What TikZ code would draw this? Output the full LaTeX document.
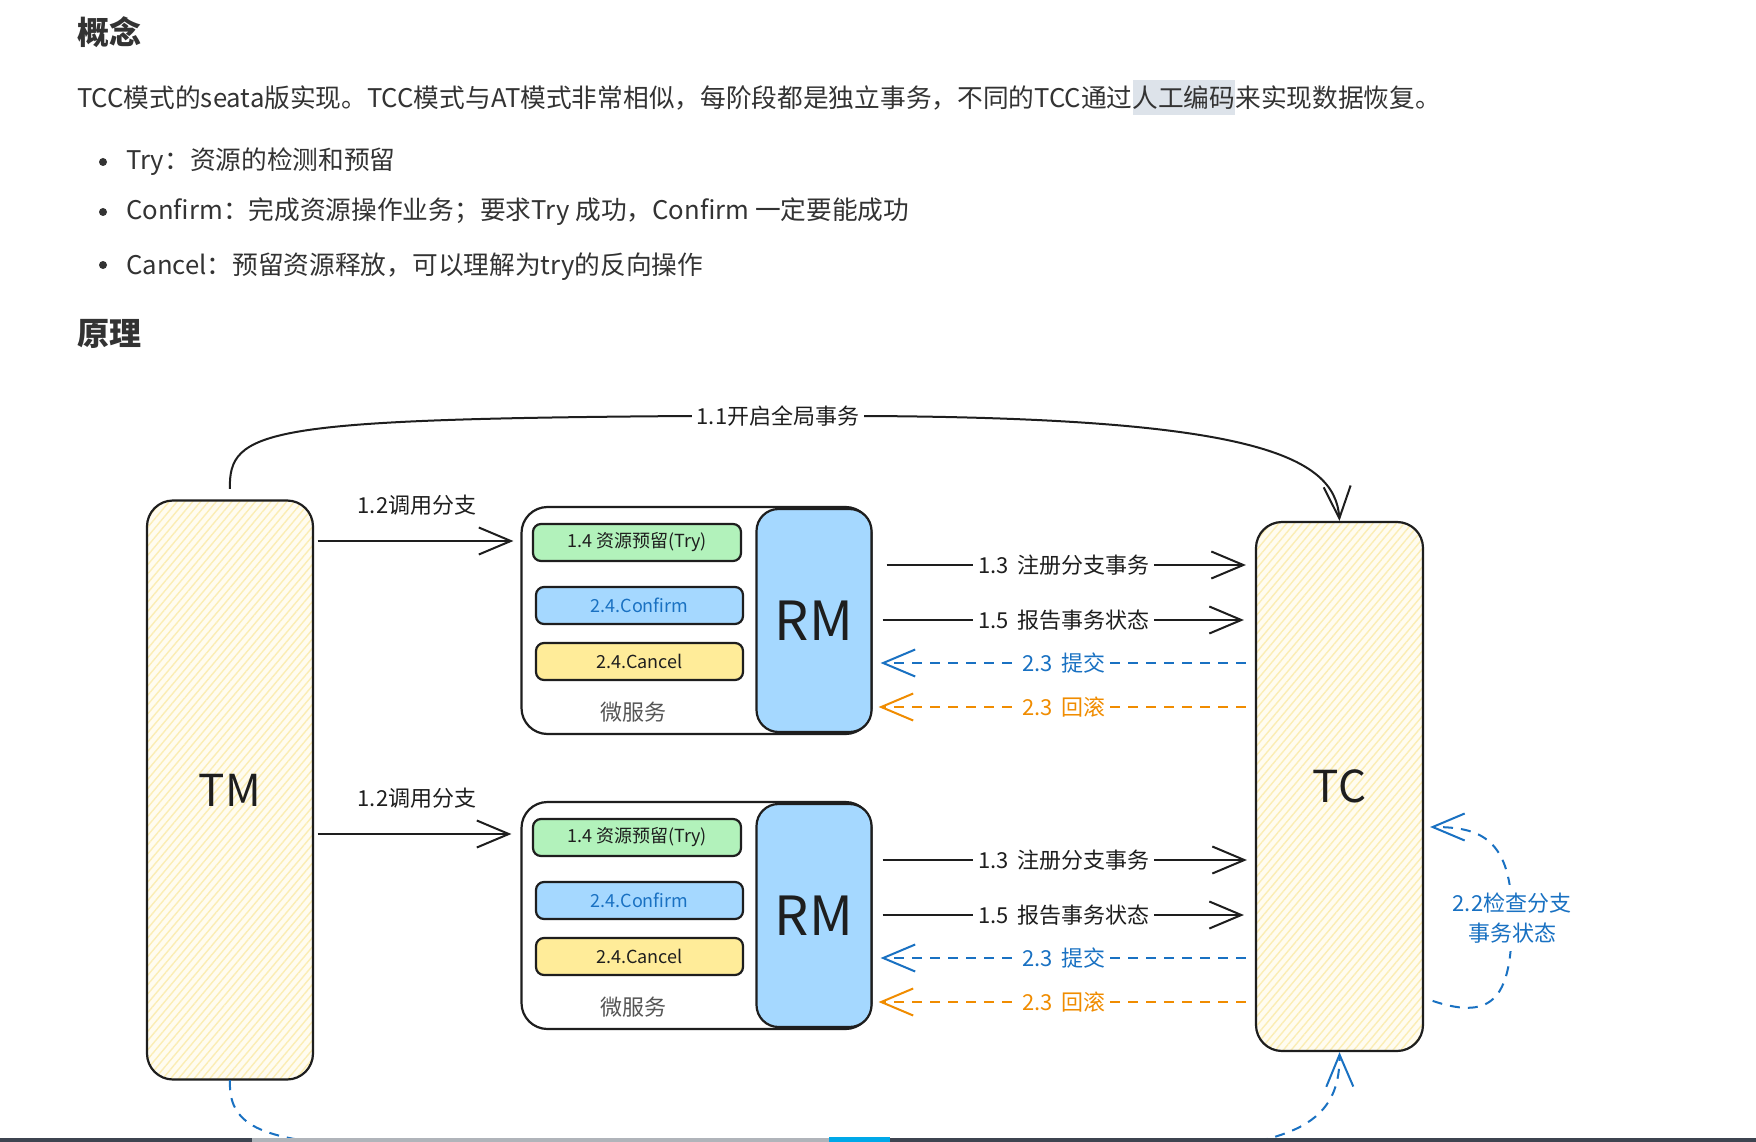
\documentclass[tikz,border=0pt]{standalone}
\usepackage{fontspec}
\setmainfont{Noto Sans CJK SC}
\usepackage{tikz}
\usetikzlibrary{arrows.meta, positioning, calc, patterns.meta}
\usepackage{xcolor}
\definecolor{tinta}{HTML}{1E1E1E}
\definecolor{texto}{HTML}{333333}
\definecolor{cinza}{HTML}{555555}
\definecolor{selec}{HTML}{DDE3EA}
\definecolor{verdeC}{HTML}{B2F2BB}
\definecolor{azulC}{HTML}{A5D8FF}
\definecolor{amareloC}{HTML}{FFEC99}
\definecolor{azulT}{HTML}{1971C2}
\definecolor{laranjaT}{HTML}{F08C00}
\definecolor{pilarBase}{HTML}{FFFCF0}
\definecolor{pilarRisco}{HTML}{FBEDB4}
\definecolor{barra}{HTML}{3D4450}
\definecolor{barraClara}{HTML}{B0B4BA}
\definecolor{barraCiano}{HTML}{00A8E8}
\newcommand{\fsize}[1]{\fontsize{#1}{#1}\selectfont}
\newcommand{\selecao}[1]{{\setlength{\fboxsep}{0pt}\colorbox{selec}{\rule[-7pt]{0pt}{35pt}#1}}}
\tikzset{
  caixa/.style={
    draw=tinta, line width=2.2pt, rounded corners=8pt,
    inner sep=0pt, font=\fsize{18}, text=tinta
  },
  caixaTry/.style={caixa, fill=verdeC, minimum width=208pt, minimum height=37pt},
  caixaConf/.style={caixa, fill=azulC, text=azulT, minimum width=207pt, minimum height=37pt},
  caixaCanc/.style={caixa, fill=amareloC, minimum width=207pt, minimum height=37pt},
  caixaRM/.style={caixa, fill=azulC, rounded corners=22pt, font=\fsize{54},
    minimum width=115pt, minimum height=223pt},
  modulo/.style={draw=tinta, line width=2.2pt, rounded corners=26pt, fill=white,
    minimum width=350pt, minimum height=227pt},
  pilar/.style={
    draw=tinta, line width=2.2pt, rounded corners=26pt,
    preaction={fill=pilarBase},
    pattern={Lines[angle=50, distance=6pt, line width=1.4pt]}, pattern color=pilarRisco,
    font=\fsize{44}, text=tinta
  },
  seta/.style={-{Straight Barb[length=32pt, width=27pt]}, line width=2pt, draw=tinta},
}

\begin{document}
\begin{tikzpicture}[
    x=1pt, y=-1pt,
    titulo/.style={anchor=base west, inner sep=0pt, font=\fsize{32}\bfseries, text=texto},
    corpo/.style={anchor=base west, inner sep=0pt, font=\fsize{25.7}, text=texto},
    marcador/.style={circle, fill=texto, minimum size=8pt, inner sep=0pt},
    rotulo/.style={font=\fsize{22}, text=tinta, inner sep=5pt},
    setaAzul/.style={seta, draw=azulT, dash pattern=on 10pt off 8pt},
    setaLaranja/.style={seta, draw=laranjaT, dash pattern=on 10pt off 8pt}
]
\clip (0,0) rectangle (1756,1142);
\fill[white] (0,0) rectangle (1756,1142);

% texto
\node[titulo] (conceito) at (77,45) {概念};
\node[corpo] (intro) at (77,108)
{TCC模式的seata版实现。TCC模式与AT模式非常相似，每阶段都是独立事务，不同的TCC通过\selecao{人工编码}来实现数据恢复。};
\node[marcador] (m1) at (103,162) {};
\node[corpo] (try) at (126,170) {Try：资源的检测和预留};
\node[marcador] (m2) at (103,212) {};
\node[corpo] (confirm) at (126,220) {Confirm：完成资源操作业务；要求Try 成功，Confirm 一定要能成功};
\node[marcador] (m3) at (103,265) {};
\node[corpo] (cancel) at (126,274) {Cancel：预留资源释放，可以理解为try的反向操作};
\node[titulo] (principio) at (77,345) {原理};

% TM e TC
\node[pilar, minimum width=166pt, minimum height=579pt] (tm) at (230,790) {TM};
\node[pilar, minimum width=167pt, minimum height=529pt] (tc) at (1339.5,786.5) {TC};

% microservico 1
\node[modulo] (ms1) at (696.5,620.5) {};
\node[caixaRM, anchor=east] (rm1) at (ms1.east) {RM};
\node[caixaTry] (try1) at (637,542.5) {1.4 资源预留(Try)};
\node[caixaConf] (conf1) at (639.5,605.5) {2.4.Confirm};
\node[caixaCanc] (canc1) at (639.5,661.5) {2.4.Cancel};
\node[font=\fsize{22}, text=cinza] (nome1) at (633,712) {微服务};

% microservico 2
\node[modulo] (ms2) at (696.5,915.5) {};
\node[caixaRM, anchor=east] (rm2) at (ms2.east) {RM};
\node[caixaTry] (try2) at (637,837.5) {1.4 资源预留(Try)};
\node[caixaConf] (conf2) at (639.5,900.5) {2.4.Confirm};
\node[caixaCanc] (canc2) at (639.5,956.5) {2.4.Cancel};
\node[font=\fsize{22}, text=cinza] (nome2) at (633,1007) {微服务};

% 1.1 e 1.2
\draw[seta, shorten <=11pt] (tm.north) .. controls (229,430) and (262,419) .. (690,416)
  -- node[rotulo, fill=white] (abre) {1.1开启全局事务} (866,416)
  .. controls (1250,418) and (1335,455) .. (tc.north);
\draw[seta, shorten <=4pt, shorten >=7pt] (tm.east |- 0,541) --
  node[rotulo, above=20pt] (chama1) {1.2调用分支} (ms1.west |- 0,541);
\draw[seta, shorten <=4pt, shorten >=9pt] (tm.east |- 0,834) --
  node[rotulo, above=20pt] (chama2) {1.2调用分支} (ms2.west |- 0,834);

% RM -> TC
\draw[seta, shorten <=14pt, shorten >=9pt] (rm1.east |- 0,565) --
  node[rotulo, fill=white] (reg1) {1.3\, 注册分支事务} (tc.west |- 0,565);
\draw[seta, shorten <=10pt, shorten >=11pt] (rm1.east |- 0,620) --
  node[rotulo, fill=white] (rel1) {1.5\, 报告事务状态} (tc.west |- 0,620);
\draw[setaAzul, shorten <=9pt, shorten >=8pt] (tc.west |- 0,663) --
  node[rotulo, fill=white, text=azulT] (sub1) {2.3\, 提交} (rm1.east |- 0,663);
\draw[setaLaranja, shorten <=9pt, shorten >=6pt] (tc.west |- 0,707) --
  node[rotulo, fill=white, text=laranjaT] (rev1) {2.3\, 回滚} (rm1.east |- 0,707);

\draw[seta, shorten <=10pt, shorten >=8pt] (rm2.east |- 0,860) --
  node[rotulo, fill=white] (reg2) {1.3\, 注册分支事务} (tc.west |- 0,860);
\draw[seta, shorten <=10pt, shorten >=11pt] (rm2.east |- 0,915) --
  node[rotulo, fill=white] (rel2) {1.5\, 报告事务状态} (tc.west |- 0,915);
\draw[setaAzul, shorten <=9pt, shorten >=8pt] (tc.west |- 0,958) --
  node[rotulo, fill=white, text=azulT] (sub2) {2.3\, 提交} (rm2.east |- 0,958);
\draw[setaLaranja, shorten <=9pt, shorten >=6pt] (tc.west |- 0,1002) --
  node[rotulo, fill=white, text=laranjaT] (rev2) {2.3\, 回滚} (rm2.east |- 0,1002);

% 2.2 verificacao
\draw[setaAzul, shorten <=9pt, shorten >=6pt] (tc.east |- 0,998)
  .. controls (1495,1022) and (1512,995) .. (1512,918)
  .. controls (1512,838) and (1480,827) .. (tc.east |- 0,827);
\node[rotulo, text=azulT, fill=white, align=center, font=\fontsize{22}{30}\selectfont,
  inner sep=8pt] (verif) at (1512,918) {2.2检查分支\\事务状态};

% TM -> TC por baixo
\draw[setaAzul] (tm.south) .. controls (228,1125) and (260,1140) .. (360,1146)
  -- (1230,1146) .. controls (1310,1135) and (1340,1110) .. (tc.south);

% barra inferior
\fill[barra] (0,1138) rectangle (1756,1142);
\fill[barraClara] (252,1138) rectangle (829,1142);
\fill[barraCiano] (829,1137) rectangle (890,1142);
\end{tikzpicture}
\end{document}
